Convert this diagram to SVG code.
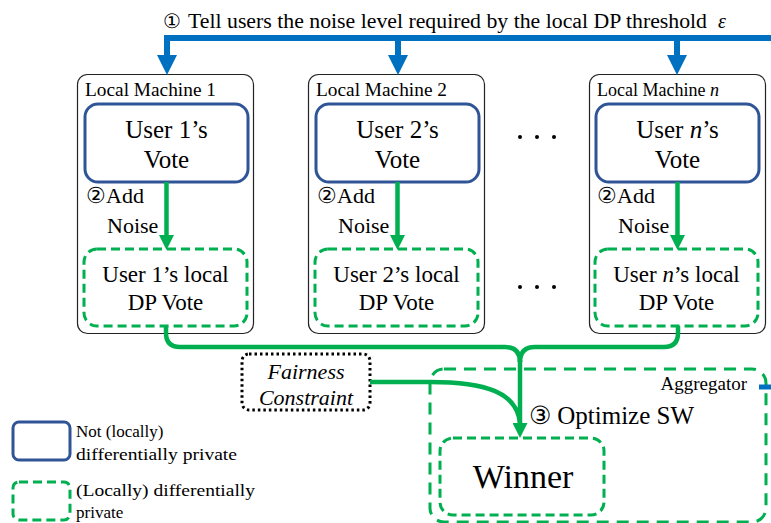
<svg xmlns="http://www.w3.org/2000/svg" width="771" height="523" viewBox="0 0 771 523">
<defs>
<marker id="ab" markerUnits="userSpaceOnUse" markerWidth="20" markerHeight="20" viewBox="0 0 20 20" refX="0" refY="10" orient="auto"><path d="M0,0 L20,10 L0,20 z" fill="#0070C0"/></marker>
<marker id="ag" markerUnits="userSpaceOnUse" markerWidth="15" markerHeight="15" viewBox="0 0 15 15" refX="0" refY="7.5" orient="auto"><path d="M0,0 L15,7.5 L0,15 z" fill="#00B050"/></marker>
</defs>

<g id="title" font-family="Liberation Serif">
<text x="163" y="28" font-size="20">①</text>
<text x="188" y="28" font-size="20" textLength="519" lengthAdjust="spacingAndGlyphs">Tell users the noise level required by the local DP threshold</text>
<text x="718" y="28" font-size="20" font-style="italic">ε</text>
</g>

<g id="machine1" font-family="Liberation Serif">
<rect x="77.5" y="74.5" width="176" height="259" rx="10" fill="#fff" stroke="#222" stroke-width="1.2"/>
<text font-size="18" x="85" y="96" textLength="131" lengthAdjust="spacingAndGlyphs">Local Machine 1</text>
<rect x="85" y="104" width="163" height="78" rx="13" fill="#fff" stroke="#2F5597" stroke-width="3"/>
<text font-size="25" text-anchor="middle" x="166.5" y="138">User 1’s</text>
<text font-size="25" text-anchor="middle" x="166.5" y="168">Vote</text>
<text font-size="22" x="86" y="203">②Add</text>
<text font-size="22" x="107" y="233">Noise</text>
<rect x="84" y="249" width="163" height="77" rx="13" fill="#fff" stroke="#00B050" stroke-width="3" stroke-dasharray="9 5"/>
<text font-size="23" text-anchor="middle" x="165.5" y="282">User 1’s local</text>
<text font-size="23" text-anchor="middle" x="165.5" y="310">DP Vote</text>
</g>

<g id="machine2" font-family="Liberation Serif">
<rect x="308.5" y="74.5" width="176" height="259" rx="10" fill="#fff" stroke="#222" stroke-width="1.2"/>
<text font-size="18" x="316" y="96" textLength="131" lengthAdjust="spacingAndGlyphs">Local Machine 2</text>
<rect x="316" y="104" width="163" height="78" rx="13" fill="#fff" stroke="#2F5597" stroke-width="3"/>
<text font-size="25" text-anchor="middle" x="397.5" y="138">User 2’s</text>
<text font-size="25" text-anchor="middle" x="397.5" y="168">Vote</text>
<text font-size="22" x="317" y="203">②Add</text>
<text font-size="22" x="338" y="233">Noise</text>
<rect x="315" y="249" width="163" height="77" rx="13" fill="#fff" stroke="#00B050" stroke-width="3" stroke-dasharray="9 5"/>
<text font-size="23" text-anchor="middle" x="396.5" y="282">User 2’s local</text>
<text font-size="23" text-anchor="middle" x="396.5" y="310">DP Vote</text>
</g>

<g id="machineN" font-family="Liberation Serif">
<rect x="589.5" y="74.5" width="176" height="259" rx="10" fill="#fff" stroke="#222" stroke-width="1.2"/>
<text font-size="18" x="597" y="96">Local Machine <tspan font-style="italic">n</tspan></text>
<rect x="596" y="104" width="163" height="78" rx="13" fill="#fff" stroke="#2F5597" stroke-width="3"/>
<text font-size="25" text-anchor="middle" x="677.5" y="138">User <tspan font-style="italic">n</tspan>’s</text>
<text font-size="25" text-anchor="middle" x="677.5" y="168">Vote</text>
<text font-size="22" x="597" y="203">②Add</text>
<text font-size="22" x="618" y="233">Noise</text>
<rect x="595" y="249" width="163" height="77" rx="13" fill="#fff" stroke="#00B050" stroke-width="3" stroke-dasharray="9 5"/>
<text font-size="23" text-anchor="middle" x="676.5" y="282">User <tspan font-style="italic">n</tspan>’s local</text>
<text font-size="23" text-anchor="middle" x="676.5" y="310">DP Vote</text>
</g>

<g id="ellipsis" fill="#000">
<circle cx="520" cy="137" r="2"/><circle cx="537" cy="137" r="2"/><circle cx="554" cy="137" r="2"/>
<circle cx="520" cy="287" r="2"/><circle cx="537" cy="287" r="2"/><circle cx="554" cy="287" r="2"/>
</g>

<g id="fairness" font-family="Liberation Serif">
<rect x="242" y="354" width="128" height="56" rx="7" fill="#fff" stroke="#000" stroke-width="3" stroke-dasharray="2.5 3"/>
<text x="306" y="379" font-size="22" font-style="italic" text-anchor="middle">Fairness</text>
<text x="306" y="405" font-size="22" font-style="italic" text-anchor="middle">Constraint</text>
</g>

<g id="aggregator" font-family="Liberation Serif">
<rect x="430" y="369" width="336" height="153" rx="14" fill="none" stroke="#00B050" stroke-width="3" stroke-dasharray="12 8"/>
<text x="747" y="390" font-size="19" text-anchor="end">Aggregator</text>
<text x="529" y="424" font-size="25">③ Optimize SW</text>
</g>

<g id="winner" font-family="Liberation Serif">
<rect x="440" y="438" width="164" height="77" rx="13" fill="#fff" stroke="#00B050" stroke-width="3" stroke-dasharray="9 5"/>
<text x="523" y="488" font-size="34" text-anchor="middle">Winner</text>
</g>

<g id="legend" font-family="Liberation Serif">
<rect x="13" y="422" width="57" height="38" rx="6" fill="#fff" stroke="#2F5597" stroke-width="3"/>
<text x="76" y="437" font-size="17">Not (locally)</text>
<text x="76" y="460" font-size="17" textLength="161" lengthAdjust="spacingAndGlyphs">differentially private</text>
<rect x="13" y="482" width="57" height="38" rx="6" fill="#fff" stroke="#00B050" stroke-width="3" stroke-dasharray="9 5"/>
<text x="76" y="496" font-size="17" textLength="179" lengthAdjust="spacingAndGlyphs">(Locally) differentially</text>
<text x="76" y="518" font-size="17">private</text>
</g>

<g id="connectors" fill="none">
<path d="M771,38 H167 V55" stroke="#0070C0" stroke-width="6" marker-end="url(#ab)"/>
<path d="M398,38 V55" stroke="#0070C0" stroke-width="6" marker-end="url(#ab)"/>
<path d="M677,38 V55" stroke="#0070C0" stroke-width="6" marker-end="url(#ab)"/>
<path d="M759,387 H771" stroke="#0070C0" stroke-width="5"/>
<path d="M166.5,182 V235" stroke="#00B050" stroke-width="4.5" marker-end="url(#ag)"/>
<path d="M397.5,182 V235" stroke="#00B050" stroke-width="4.5" marker-end="url(#ag)"/>
<path d="M677.5,182 V235" stroke="#00B050" stroke-width="4.5" marker-end="url(#ag)"/>
<path d="M166,326 V333 Q166,347 180,347 H505 Q520,347 520,362" stroke="#00B050" stroke-width="4.5"/>
<path d="M678,326 V333 Q678,347 664,347 H535 Q520,347 520,362" stroke="#00B050" stroke-width="4.5"/>
<path d="M520,360 V423" stroke="#00B050" stroke-width="4.5" marker-end="url(#ag)"/>
<path d="M370,382 H430 C485,382 517,392 520,423" stroke="#00B050" stroke-width="4.5"/>
</g>
</svg>
